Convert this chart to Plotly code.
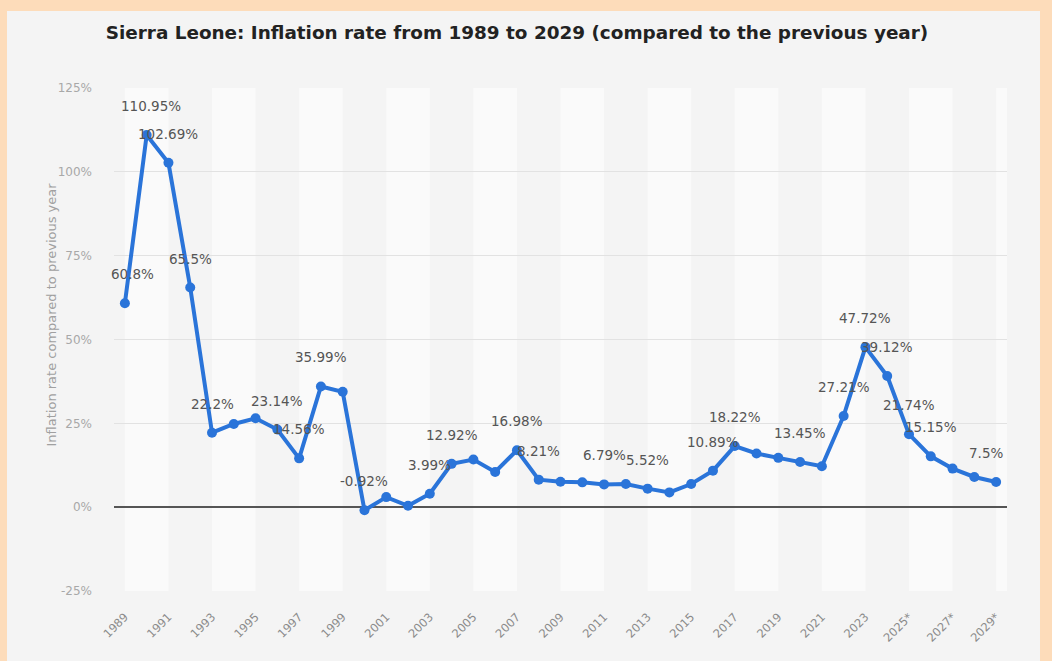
import plotly.graph_objects as go

years = list(range(1989, 2030))
year_labels = [str(y) + ("*" if y >= 2024 else "") for y in years]
inflation = [60.8, 110.95, 102.69, 65.5, 22.2, 24.8, 26.5, 23.14, 14.56, 35.99,
             34.4, -0.92, 3.0, 0.4, 3.99, 12.92, 14.2, 10.5, 16.98, 8.21,
             7.6, 7.4, 6.79, 6.9, 5.52, 4.4, 6.9, 10.89, 18.22, 16.0,
             14.7, 13.45, 12.2, 27.21, 47.72, 39.12, 21.74, 15.15, 11.5, 9.0,
             7.5]
labeled_years = [1989, 1990, 1991, 1992, 1993, 1996, 1997, 1998, 2000, 2003, 2004,
                 2007, 2008, 2011, 2013, 2016, 2017, 2020, 2022, 2023, 2024, 2025,
                 2026, 2029]
y_ticks = [-25, 0, 25, 50, 75, 100, 125]
y_tick_text = [f"{v}%" for v in y_ticks]

title_text = "Sierra Leone: Inflation rate from 1989 to 2029 (compared to the previous year)"
y_title = "Inflation rate compared to previous year"

FONT = "DejaVu Sans, Liberation Sans, Arial, sans-serif"
LINE = "#2A74D9"
W, H = 1052, 661
L, R, T, B = 114, 45, 88, 70
pw = W - L - R
ph = H - T - B

def px_x(px):
    return (px - L) / pw

def px_y(py):
    return (H - B - py) / ph

fig = go.Figure()
fig.add_trace(go.Scatter(
    x=years, y=inflation, mode="lines+markers",
    line=dict(color=LINE, width=4),
    marker=dict(color=LINE, size=10),
    hoverinfo="skip", showlegend=False,
))

shapes = [
    dict(type="rect", xref="paper", yref="paper",
         x0=px_x(7), x1=px_x(1040), y0=px_y(680), y1=px_y(11),
         fillcolor="#F4F4F4", line=dict(width=0), layer="below"),
]
x_lo, x_hi = years[0] - 0.5, years[-1] + 0.5
for y0 in years[::4]:
    shapes.append(dict(type="rect", xref="x", yref="y domain",
                       x0=y0, x1=min(y0 + 2, x_hi), y0=0, y1=1,
                       fillcolor="#FAFAFA", line=dict(width=0), layer="below"))

annotations = []
for yr, v in zip(years, inflation):
    if yr in labeled_years:
        xs = 0
        if yr == years[-1]:
            xs = -10
        elif yr == years[0]:
            xs = 8
        elif yr == years[1]:
            xs = 4
        annotations.append(dict(x=yr, y=v, text=f"{v:g}%", showarrow=False,
                                yshift=29, xshift=xs,
                                font=dict(size=13.5, color="#555555", family=FONT)))
annotations.append(dict(xref="paper", yref="paper", x=px_x(41), y=px_y(315),
                        text=y_title, textangle=-90, showarrow=False,
                        font=dict(size=13, color="#A0A0A0", family=FONT)))

fig.update_layout(
    width=W, height=H,
    margin=dict(l=L, r=R, t=T, b=B),
    paper_bgcolor="#FDDCBA",
    plot_bgcolor="rgba(0,0,0,0)",
    shapes=shapes,
    annotations=annotations,
    title=dict(text=f"<b>{title_text}</b>", x=517 / W, xanchor="center",
               y=1 - 33 / H, yanchor="middle",
               font=dict(size=18.4, color="#222222", family=FONT)),
    xaxis=dict(range=[x_lo, x_hi], tickvals=years[::2], ticktext=year_labels[::2],
               tickangle=-45, showgrid=False, zeroline=False, showline=False,
               ticks="", ticklabelstandoff=16,
               tickfont=dict(size=11.5, color="#8A8A8A", family=FONT)),
    yaxis=dict(range=[-25, 125], tickvals=y_ticks, ticktext=y_tick_text,
               showgrid=True, gridcolor="#E2E2E2", gridwidth=1,
               zeroline=True, zerolinecolor="#555555", zerolinewidth=2,
               showline=False, ticks="", ticklabelstandoff=21,
               tickfont=dict(size=12, color="#A8A8A8", family=FONT)),
)

fig.write_html("out.html")
